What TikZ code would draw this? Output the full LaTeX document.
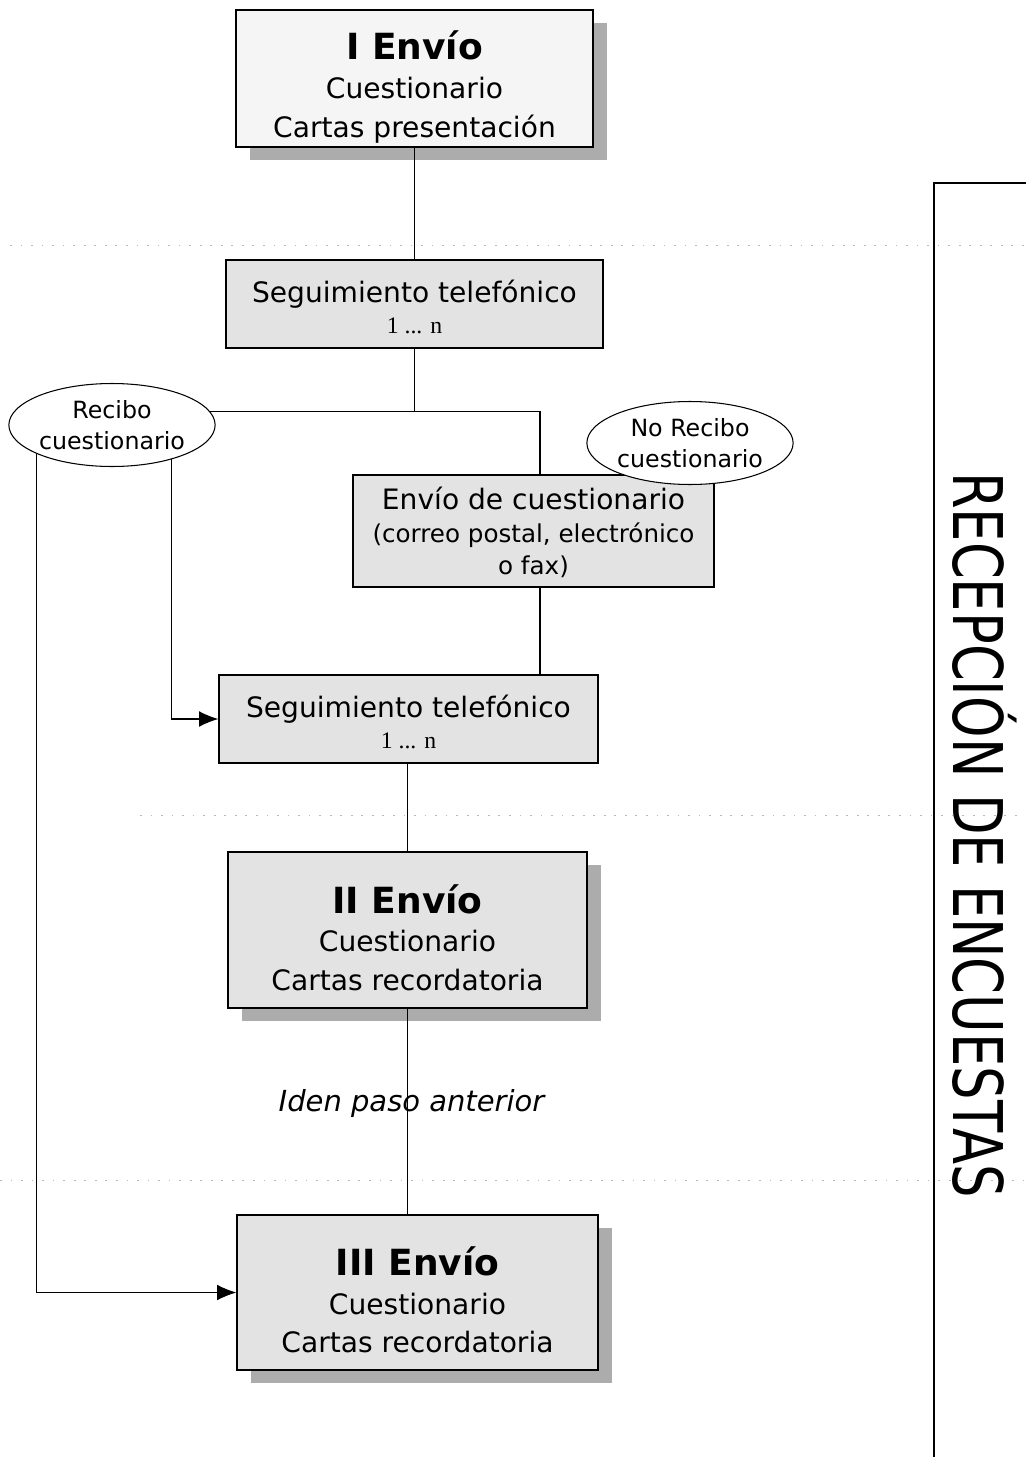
\documentclass[tikz,border=0pt]{standalone}
\usepackage{fontspec}
\setmainfont{DejaVu Sans}
\newfontfamily\numfont{Liberation Serif}
\usetikzlibrary{shapes.geometric,arrows.meta,shadows}
\newcommand{\topgap}[1]{\rule{0pt}{#1}}

\begin{document}
\begin{tikzpicture}[x=0.02cm,y=-0.02cm,
		box/.style={draw, line width=0.8pt, fill=gray!22, align=center, inner sep=0pt, font=\fontsize{16}{22}\selectfont},
		shadowed/.style={drop shadow={shadow xshift=0.28cm, shadow yshift=-0.26cm, fill=gray!65, opacity=1}},
		oval/.style={draw, ellipse, fill=white, line width=0.6pt, align=center, inner sep=0pt, minimum width=4.12cm, minimum height=1.66cm, font=\fontsize{13.5}{18}\selectfont},
		link/.style={line width=0.6pt},
		arrow/.style={link, -{Latex[length=11pt, width=9pt]}},
		guide/.style={gray!55, line width=0.4pt, dash pattern=on 1pt off 5pt}]
		\useasboundingbox (0,0) rectangle (1026,1457);
		
		% faint ruled lines of the page
		\draw[guide] (10,245) -- (1026,245);
		\draw[guide] (140,815) -- (1026,815);
		\draw[guide] (0,1180) -- (1026,1180);
		
		\node[box, shadowed, fill=gray!8, minimum width=7.14cm, minimum height=2.74cm] (envio1) at (414.5,78.5)
			{{\fontsize{20.5}{24}\selectfont\bfseries\topgap{26pt}I Envío}\\ Cuestionario\\ Cartas presentación};
		\node[box, minimum width=7.54cm, minimum height=1.76cm] (seg1) at (414.5,304)
			{\topgap{16pt}Seguimiento telefónico\\[-4pt] {\numfont\fontsize{13.5}{14}\selectfont 1 ... n}};
		\node[box, minimum width=7.22cm, minimum height=2.24cm] (envcu) at (533.5,531)
			{\topgap{14pt}Envío de cuestionario\\[-3pt] {\fontsize{14}{19}\selectfont (correo postal, electrónico}\\[-4pt] {\fontsize{14}{19}\selectfont o fax)}};
		\node[box, minimum width=7.58cm, minimum height=1.76cm] (seg2) at (408.5,719)
			{\topgap{16pt}Seguimiento telefónico\\[-4pt] {\numfont\fontsize{13.5}{14}\selectfont 1 ... n}};
		\node[box, shadowed, minimum width=7.18cm, minimum height=3.12cm] (envio2) at (407.5,930)
			{{\fontsize{20.5}{24}\selectfont\bfseries\topgap{25pt}II Envío}\\ Cuestionario\\ Cartas recordatoria};
		\node[box, shadowed, minimum width=7.22cm, minimum height=3.1cm] (envio3) at (417.5,1292.5)
			{{\fontsize{20.5}{24}\selectfont\bfseries\topgap{25pt}III Envío}\\ Cuestionario\\ Cartas recordatoria};
		
		\node[oval] (recibo) at (112,425) {Recibo\\ cuestionario};
		\node[oval] (norecibo) at (690,443) {No Recibo\\ cuestionario};
		
		\draw[link] (envio1.south) -- (seg1.north);
		\draw[link] (seg1.south) -- (seg1.south |- recibo.8);
		\draw[link] (recibo.8) -| ([xshift=0.13cm]envcu.north);
		\draw[link] ([xshift=0.13cm]envcu.south) -- ([xshift=0.13cm]envcu.south |- seg2.north);
		\draw[arrow] (recibo.-30) |- (seg2.west);
		\draw[arrow] (recibo.-159) |- (envio3.west);
		\draw[link] (envio2.north |- seg2.south) -- (envio2.north);
		\draw[link] (envio2.south) -- (envio2.south |- envio3.north)
			node[pos=0.46, xshift=0.08cm, font=\fontsize{16.5}{20}\selectfont\itshape] (iden) {Iden paso anterior};
		
		% recuadro lateral
		\draw[link, line width=0.8pt] (1026,183) -- (934,183) -- (934,1457);
		\node[rotate=-90, inner sep=0pt, font=\fontsize{39}{39}\selectfont] (recep) at (985,835)
			{\scalebox{0.77}[1]{RECEPCIÓN DE ENCUESTAS}};
	\end{tikzpicture}
\end{document}
